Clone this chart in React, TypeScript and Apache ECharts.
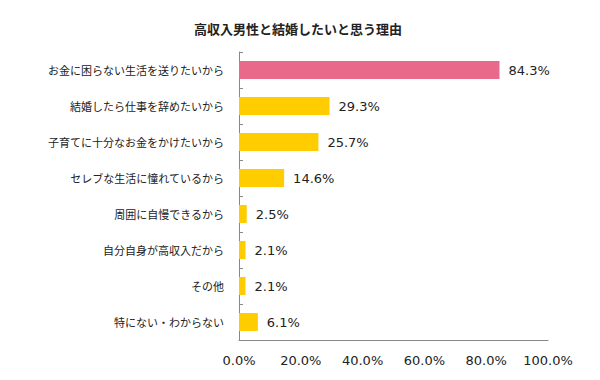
import React, { useEffect, useRef } from "react";
import * as echarts from "echarts";

const titleText = "高収入男性と結婚したいと思う理由";
const categories = [
  "お金に困らない生活を送りたいから",
  "結婚したら仕事を辞めたいから",
  "子育てに十分なお金をかけたいから",
  "セレブな生活に憧れているから",
  "周囲に自慢できるから",
  "自分自身が高収入だから",
  "その他",
  "特にない・わからない",
];
const values = [84.3, 29.3, 25.7, 14.6, 2.5, 2.1, 2.1, 6.1];
const highlightIndex = 0;
const colorHighlight = "#E8698A";
const colorNormal = "#FFCC00";

export default function App() {
  const ref = useRef<HTMLDivElement>(null);
  useEffect(() => {
    if (!ref.current) return;
    const chart = echarts.init(ref.current, undefined, { renderer: "svg" });
    chart.setOption({
      animation: false,
      backgroundColor: "#ffffff",
      title: {
        text: titleText,
        left: 293,
        textAlign: "center",
        top: 17,
        textStyle: {
          fontFamily: "'Noto Sans CJK JP', sans-serif",
          fontSize: 13,
          fontWeight: "bold",
          color: "#222",
        },
      },
      grid: { left: 239, right: 52, top: 52, bottom: 40, containLabel: false },
      xAxis: {
        type: "value",
        min: 0,
        max: 100,
        interval: 20,
        axisLine: { show: true, lineStyle: { color: "#888", width: 1 } },
        axisTick: { show: false },
        splitLine: { show: false },
        axisLabel: {
          formatter: (v: number) => v.toFixed(1) + "%",
          fontFamily: "'DejaVu Sans', sans-serif",
          fontSize: 13,
          color: "#222",
          margin: 14,
        },
      },
      yAxis: {
        type: "category",
        data: categories,
        inverse: true,
        axisLine: { show: true, lineStyle: { color: "#888", width: 1 } },
        axisTick: { show: true, inside: true, length: 4, lineStyle: { color: "#888" } },
        axisLabel: {
          fontFamily: "'Noto Sans CJK JP', sans-serif",
          fontSize: 11,
          color: "#222",
          margin: 15,
        },
      },
      series: [
        {
          type: "bar",
          data: values.map((v, i) => ({
            value: v,
            itemStyle: { color: i === highlightIndex ? colorHighlight : colorNormal },
          })),
          barWidth: "50%",
          label: {
            show: true,
            position: "right",
            distance: 9,
            formatter: (p: any) => p.value.toFixed(1) + "%",
            fontFamily: "'DejaVu Sans', sans-serif",
            fontSize: 13,
            color: "#222",
          },
        },
      ],
    });
    return () => chart.dispose();
  }, []);
  return <div ref={ref} style={{ width: 600, height: 380, margin: -8 }} />;
}
